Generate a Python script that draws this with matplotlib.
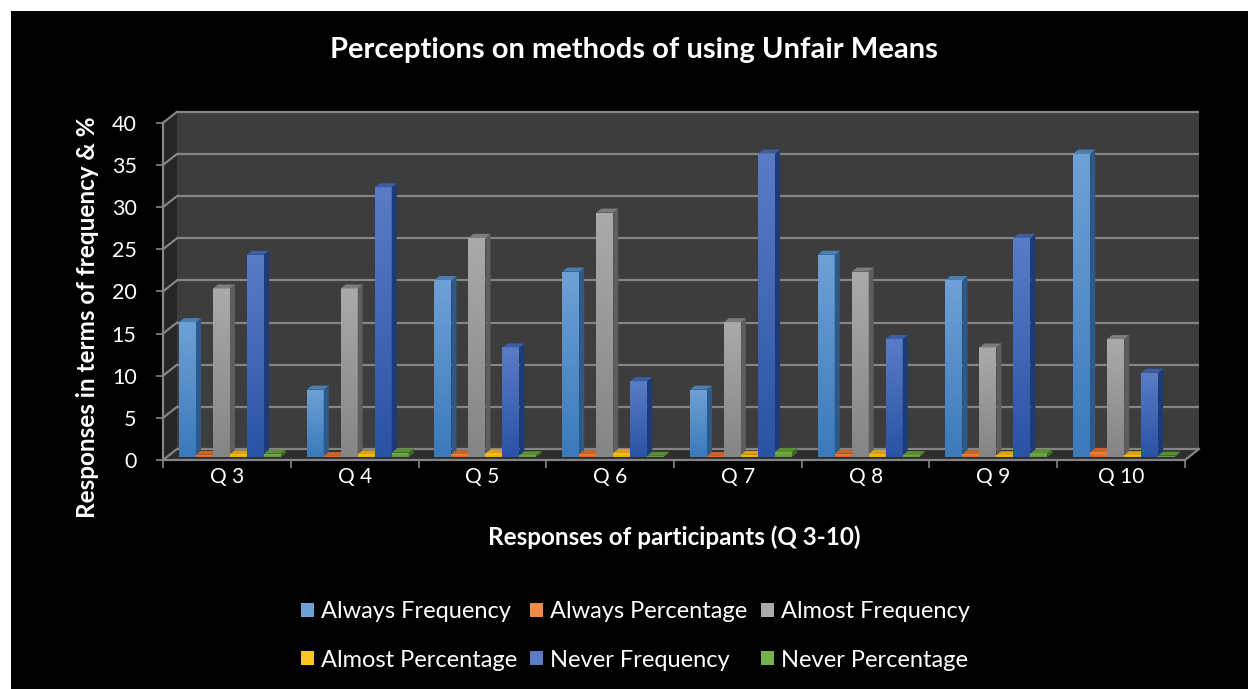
import matplotlib
matplotlib.use("Agg")
import matplotlib.pyplot as plt
import numpy as np
from matplotlib.patches import Polygon, Rectangle, Patch
from matplotlib.colors import LinearSegmentedColormap

# ---------------- data ----------------
categories = ["Q 3", "Q 4", "Q 5", "Q 6", "Q 7", "Q 8", "Q 9", "Q 10"]
always_freq = [16, 8, 21, 22, 8, 24, 21, 36]
always_pct = [0.27, 0.13, 0.35, 0.37, 0.13, 0.40, 0.35, 0.60]
almost_freq = [20, 20, 26, 29, 16, 22, 13, 14]
almost_pct = [0.33, 0.33, 0.43, 0.48, 0.27, 0.37, 0.22, 0.23]
never_freq = [24, 32, 13, 9, 36, 14, 26, 10]
never_pct = [0.40, 0.53, 0.22, 0.15, 0.60, 0.23, 0.43, 0.17]
series_names = ["Always Frequency", "Always Percentage", "Almost Frequency",
                "Almost Percentage", "Never Frequency", "Never Percentage"]
series_values = [always_freq, always_pct, almost_freq, almost_pct, never_freq, never_pct]
yticks = [0, 5, 10, 15, 20, 25, 30, 35, 40]

# ---------------- style ----------------
FONT = "Lato"
plt.rcParams["font.family"] = [FONT, "DejaVu Sans"]
# (front top, front bottom, side, top face)
styles = [
    ("#6ea1d6", "#3b7abb", "#2c5a8a", "#4a80b8"),
    ("#f08a45", "#d9661c", "#a04a12", "#c8642a"),
    ("#aaaaaa", "#858585", "#5e5e5e", "#7c7c7c"),
    ("#ffc622", "#e8a800", "#a87c00", "#d7a21a"),
    ("#5a7cc6", "#2a53a6", "#1d3b7a", "#3c5ea4"),
    ("#76b24a", "#5f9a35", "#3f6b22", "#5a8f34"),
]

W, H = 1248, 689
fig = plt.figure(figsize=(W / 100, H / 100), dpi=100, facecolor="white")
fig.patches.append(Rectangle((11 / W, 0), 1 - 11 / W, (H - 11) / H,
                             transform=fig.transFigure, facecolor="black",
                             edgecolor="none", zorder=-10))

px_per_x = 127.75
px_per_y = 8.43
x0_px, y0_px = 163, 460
n = len(categories)
ddx = 14 / px_per_x      # wall depth (x)
ddy = 11 / px_per_y      # wall depth (y)
xmax = n + ddx
ymax = 41.4
left = x0_px / W
right = (x0_px + xmax * px_per_x) / W
bottom = (H - y0_px) / H
top = (H - (y0_px - ymax * px_per_y)) / H
ax = fig.add_axes([left, bottom, right - left, top - bottom])
ax.set_facecolor("none")
ax.patch.set_alpha(0)

grid_c = "#858585"
# back wall
ax.add_patch(Rectangle((ddx, ddy), n, 40, facecolor="#3d3d3d", edgecolor="none", zorder=0.5))
# side wall
ax.add_patch(Polygon([(0, 0), (0, 40), (ddx, 40 + ddy), (ddx, ddy)],
                     closed=True, facecolor="#262626", edgecolor="none", zorder=0.6))
# floor
ax.add_patch(Polygon([(0, 0), (n, 0), (n + ddx, ddy), (ddx, ddy)], closed=True,
                     facecolor="#2e2e2e", edgecolor="none", zorder=0.7, clip_on=False))
for t in yticks:
    ax.plot([ddx, n + ddx], [t + ddy, t + ddy], color=grid_c, lw=1.6, zorder=1,
            solid_capstyle="butt", clip_on=False)
    ax.plot([0, ddx], [t, t + ddy], color=grid_c, lw=1.6, zorder=1, clip_on=False)
ax.plot([n, n + ddx], [0, ddy], color=grid_c, lw=1.6, zorder=1, clip_on=False)

# bars
bw = 17 / px_per_x
bx0 = 0.125
bdx = 5 / px_per_x
bdy = 4 / px_per_y
base = 0.35
xs = np.arange(n)
for k, vals in enumerate(series_values):
    ftop, fbot, side, topc = styles[k]
    z = 3 + k * 0.1
    bars = ax.bar(xs + bx0 + k * bw, vals, width=bw, bottom=base, align="edge",
                  color=fbot, edgecolor="none", zorder=z)
    cmap = LinearSegmentedColormap.from_list("g%d" % k, [fbot, ftop])
    for b in bars:
        x, y, w, h = b.get_x(), b.get_y(), b.get_width(), b.get_height()
        im = ax.imshow(np.linspace(0, 1, 64).reshape(-1, 1), cmap=cmap, origin="lower",
                       extent=[x, x + w, y, y + h], aspect="auto", zorder=z + 0.01,
                       interpolation="bilinear")
        im.set_clip_path(b)
        ax.add_patch(Polygon([(x + w, y), (x + w, y + h), (x + w + bdx, y + h + bdy),
                              (x + w + bdx, y + bdy)], closed=True, facecolor=side,
                             edgecolor="none", zorder=z + 0.02))
        ax.add_patch(Polygon([(x, y + h), (x + w, y + h), (x + w + bdx, y + h + bdy),
                              (x + bdx, y + h + bdy)], closed=True, facecolor=topc,
                             edgecolor="none", zorder=z + 0.02))

ax.set_xlim(0, xmax)
ax.set_ylim(0, ymax)

# axes
for s in ["top", "right"]:
    ax.spines[s].set_visible(False)
ax.spines["left"].set_bounds(0, 40)
ax.spines["bottom"].set_bounds(0, n)
for s in ["left", "bottom"]:
    ax.spines[s].set_color(grid_c)
    ax.spines[s].set_linewidth(1.6)
    ax.spines[s].set_zorder(1.5)
ax.set_yticks(yticks)
ax.set_yticklabels([str(t) for t in yticks])
ax.tick_params(axis="y", colors=grid_c, labelcolor="white", labelsize=15.5,
               length=5, width=1.2, pad=14)
ax.set_xticks(np.arange(n + 1))
ax.set_xticklabels([])
ax.set_xticks(xs + 0.5, minor=True)
ax.set_xticklabels(categories, minor=True)
ax.tick_params(axis="x", which="major", colors=grid_c, length=6, width=1.2)
ax.tick_params(axis="x", which="minor", length=0, labelcolor="white", labelsize=15, pad=5)

# texts
fig.text(634 / W, (H - 50) / H, "Perceptions on methods of using Unfair Means",
         ha="center", va="center", color="white", fontsize=21, fontweight="bold")
fig.text(88 / W, (H - 317) / H, "Responses in terms of frequency & %", rotation=90,
         ha="center", va="center", color="white", fontsize=17.5, fontweight="bold")
fig.text(674 / W, (H - 537) / H, "Responses of participants (Q 3-10)",
         ha="center", va="center", color="white", fontsize=17.5, fontweight="bold")

# legend (row-wise order in 3 columns)
handles = [Patch(facecolor=styles[k][0], edgecolor="none") for k in range(6)]
order = [0, 3, 1, 4, 2, 5]
leg = fig.legend([handles[i] for i in order], [series_names[i] for i in order],
                 ncol=3, loc="center", bbox_to_anchor=(0.509, (H - 636) / H),
                 frameon=False, fontsize=17, labelcolor="white",
                 handlelength=0.55, handleheight=0.55, handletextpad=0.3,
                 columnspacing=0.55, labelspacing=1.15)

fig.savefig("out.png", dpi=100, facecolor=fig.get_facecolor())
